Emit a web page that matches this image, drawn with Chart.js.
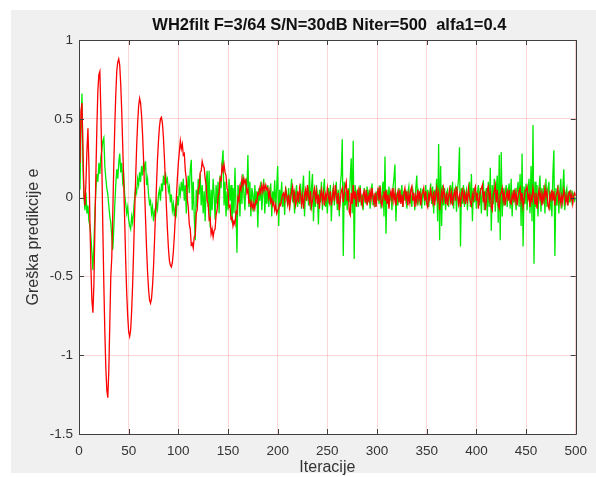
<!DOCTYPE html>
<html><head><meta charset="utf-8">
<script src="https://cdn.jsdelivr.net/npm/chart.js@4.4.1/dist/chart.umd.min.js"></script>
<style>html,body{margin:0;padding:0;background:#fff;overflow:hidden;}</style>
</head><body><canvas id="c" width="596" height="477"></canvas>
<script>
const titleText = "WH2filt F=3/64 S/N=30dB Niter=500  alfa1=0.4";
const xLabel = "Iteracije";
const yLabel = "Greška predikcije e";
const xTicks = [0, 50, 100, 150, 200, 250, 300, 350, 400, 450, 500];
const yTicks = [-1.5, -1, -0.5, 0, 0.5, 1];

// red series (iterations 1..500)
const redSeries = [
 0.22, 0.55, 0.60, 0.30, 0.02, -0.05, 0.10, 0.30, 0.44, 0.20,
 -0.15, -0.45, -0.65, -0.73, -0.55, -0.20, 0.15, 0.45, 0.68, 0.78,
 0.80, 0.55, 0.20, -0.20, -0.55, -0.85, -1.08, -1.22, -1.27, -1.10,
 -0.80, -0.50, -0.38, -0.10, 0.20, 0.45, 0.65, 0.80, 0.86, 0.88,
 0.84, 0.72, 0.55, 0.33, 0.10, -0.15, -0.40, -0.60, -0.75, -0.85,
 -0.88, -0.84, -0.72, -0.55, -0.33, -0.10, 0.12, 0.32, 0.47, 0.58,
 0.63, 0.60, 0.52, 0.40, 0.24, 0.05, -0.14, -0.32, -0.47, -0.58,
 -0.65, -0.67, -0.64, -0.56, -0.44, -0.28, -0.10, 0.08, 0.24, 0.36,
 0.45, 0.50, 0.51, 0.47, 0.38, 0.25, 0.10, -0.06, -0.20, -0.32,
 -0.40, -0.43, -0.44, -0.41, -0.34, -0.24, -0.12, 0.00, 0.12, 0.22,
 0.29, 0.36, 0.31, 0.34, 0.27, 0.28, 0.17, 0.12, -0.01, -0.06,
 -0.17, -0.20, -0.30, -0.29, -0.32, -0.25, -0.24, -0.10, -0.08, 0.05,
 0.07, 0.16, 0.17, 0.23, 0.20, 0.19, 0.12, 0.08, -0.02, -0.04,
 -0.14, -0.13, -0.23, -0.20, -0.25, -0.21, -0.20, -0.11, -0.08, 0.01,
 0.03, 0.12, 0.11, 0.20, 0.17, 0.21, 0.16, 0.14, 0.06, 0.04,
 -0.06, -0.05, -0.14, -0.12, -0.18, -0.15, -0.17, -0.09, -0.10, 0.00,
 -0.02, 0.07, 0.05, 0.12, 0.08, 0.12, 0.09, 0.11, 0.03, 0.05,
 -0.03, -0.02, -0.06, -0.03, -0.07, -0.04, -0.07, -0.02, -0.03, 0.03,
 0.02, 0.06, 0.03, 0.08, 0.04, 0.08, 0.05, 0.08, 0.05, 0.06,
 0.00, 0.04, -0.03, -0.01, -0.05, -0.03, -0.08, -0.05, -0.10, -0.08,
 -0.07, -0.04, -0.05, -0.01, 0.02,
 0.03, -0.02, 0.05, 0.01, -0.04, 0.02, -0.06, -0.01, 0.04, 0.07,
 -0.01, 0.03, -0.05, -0.02, 0.04, -0.03, 0.06, 0.02, -0.04, 0.01,
 -0.07, 0.02, 0.05, -0.02, 0.08, 0.01, -0.03, 0.04, -0.06, -0.02,
 0.03, 0.06, -0.01, 0.04, -0.04, 0.02, -0.07, 0.01, 0.05, -0.02,
 0.03, -0.05, 0.02, -0.01, 0.06, 0.01, -0.03, 0.04, -0.05, 0.00,
 0.05, -0.02, 0.08, 0.02, -0.04, 0.03, -0.08, -0.02, 0.04, 0.06,
 -0.03, 0.02, 0.07, 0.10, -0.02, 0.05, -0.09, -0.11, 0.03, -0.04,
 0.08, -0.01, 0.04, -0.06, 0.02, 0.05, -0.03, 0.06, -0.02, -0.05,
 0.02, 0.04, -0.03, 0.05, -0.05, 0.01, -0.02, 0.04, -0.01, 0.06,
 0.00, -0.04, 0.03, -0.06, 0.02, 0.05, -0.02, 0.07, -0.03, -0.05,
 0.01, 0.04, -0.02, 0.05, -0.04, 0.02, -0.07, 0.01, 0.04, -0.01,
 0.06, -0.02, 0.03, -0.05, 0.01, 0.04, -0.03, 0.05, -0.04, 0.02,
 -0.06, 0.03, 0.06, -0.01, 0.04, -0.05, 0.02, -0.03, 0.05, 0.07,
 -0.02, 0.03, -0.06, 0.01, -0.03, 0.05, -0.01, 0.04, -0.05, 0.02,
 0.03, 0.06, -0.02, 0.04, -0.04, -0.06, 0.02, -0.01, 0.05, 0.01,
 -0.03, 0.04, -0.05, 0.02, 0.06, -0.01, 0.03, -0.08, -0.02, 0.04,
 -0.01, 0.06, 0.02, -0.04, 0.03, -0.05, 0.01, 0.05, -0.02, 0.03,
 -0.05, 0.01, 0.04, -0.02, 0.07, 0.02, -0.04, 0.01, -0.06, 0.03,
 0.05, -0.01, 0.03, -0.04, 0.02, -0.02, 0.06, 0.01, -0.03, -0.05,
 0.02, -0.01, 0.05, 0.07, -0.02, 0.03, -0.07, -0.01, 0.04, 0.06,
 0.08, -0.03, 0.04, -0.08, -0.02, 0.05, 0.07, -0.01, 0.03, -0.06,
 -0.08, 0.02, 0.04, 0.08, -0.03, 0.05, -0.05, -0.07, 0.02, 0.03,
 0.06, -0.02, 0.03, -0.05, 0.01, 0.04, -0.02, 0.05, -0.03, -0.04,
 0.02, -0.01, 0.05, -0.02, 0.03, -0.05, 0.01, 0.04, 0.06, -0.02,
 0.03, -0.06, -0.02, 0.04, 0.05, 0.07, -0.01, 0.02, -0.06, 0.01,
 -0.02, 0.06, 0.02, -0.04, 0.03, -0.07, 0.01, 0.05, -0.01, 0.03,
 -0.05, 0.02, -0.02, 0.06, 0.01, 0.04, -0.05, -0.07, 0.02, -0.01,
 0.05, -0.02, 0.04, -0.05, 0.01, 0.03, 0.06, -0.02, 0.02, -0.04,
 0.01, -0.03, 0.05, 0.02, -0.03, 0.01, -0.05, 0.03, 0.04, -0.01,
 0.02, -0.04, 0.01, 0.03, 0.01
];

// green series (iterations 1..500)
const greenSeries = [
 0.05, 0.45, 0.66, 0.20, 0.00, -0.08, 0.03, -0.10, -0.05, -0.15,
 -0.18, -0.25, -0.35, -0.46, -0.30, -0.10, 0.05, 0.15, 0.10, 0.22,
 0.15, 0.26, 0.30, 0.36, 0.38, 0.20, 0.12, 0.06, 0.02, -0.05,
 -0.12, -0.16, -0.25, -0.33, -0.20, -0.05, 0.08, 0.18, 0.12, 0.22,
 0.28, 0.16, 0.22, 0.10, 0.14, 0.02, -0.04, -0.10, -0.06, -0.14,
 -0.18, -0.20, -0.12, -0.16, -0.08, 0.00, 0.06, 0.03, 0.12, 0.08,
 0.16, 0.10, 0.20, 0.14, 0.22, 0.18, 0.23, 0.08, 0.12, 0.02,
 -0.04, -0.02, -0.10, -0.06, -0.15, -0.09, -0.12, -0.03, -0.07, 0.02,
 0.05, -0.02, 0.09, 0.04, 0.14, 0.08, 0.16, 0.10, 0.12, 0.04,
 0.07, -0.03, 0.02, -0.08, -0.04, -0.12, -0.06, -0.10, 0.01, -0.05,
 0.06, 0.02, 0.10, 0.04, 0.12, -0.02, 0.08, -0.10, 0.05, 0.14,
 0.03, 0.18, 0.24, -0.08, 0.10, -0.12, -0.27, 0.05, -0.06, 0.12,
 0.02, 0.15, -0.05, 0.08, -0.10, 0.04, -0.15, 0.10, 0.17, -0.06,
 0.17, -0.19, 0.05, -0.08, 0.12, 0.02, -0.14, 0.08, -0.04, 0.10,
 -0.10, 0.14, 0.06, 0.22, 0.30, -0.05, 0.10, -0.12, 0.04, -0.08,
 0.12, -0.02, 0.08, -0.16, 0.06, -0.10, 0.19, -0.06, -0.35, 0.08,
 0.04, -0.12, 0.10, -0.04, 0.15, 0.02, -0.08, 0.12, 0.05, 0.27,
 -0.06, 0.10, -0.12, 0.06, 0.02, -0.09, 0.08, -0.05, 0.04, -0.19,
 0.06, -0.02, 0.10, -0.08, 0.03, 0.12, -0.10, 0.05, -0.04, 0.08,
 -0.06, 0.02, 0.09, -0.12, 0.04, -0.03, 0.11, -0.08, 0.06, 0.20,
 -0.18, 0.05, -0.04, 0.10, -0.06, 0.03, -0.11, 0.07, 0.02, -0.05,
 0.06, -0.08, 0.04, 0.12, -0.03, 0.05, -0.10, 0.02, 0.08, -0.06,
 0.03, -0.04, 0.09, -0.07, 0.05, 0.14, -0.12, 0.04, -0.02, 0.07,
 -0.05, 0.17, -0.08, 0.06, 0.15, -0.15, 0.03, -0.06, 0.08, 0.02,
 -0.17, 0.05, -0.03, 0.10, -0.08, 0.04, 0.12, -0.06, 0.02, -0.10,
 0.06, -0.04, 0.08, -0.15, 0.03, 0.07, -0.05, 0.02, 0.10, -0.08,
 0.05, -0.12, 0.08, 0.15, 0.37, -0.37, 0.10, -0.05, 0.04, -0.08,
 0.06, -0.03, 0.12, 0.25, -0.10, 0.36, -0.39, 0.08, -0.04, 0.05,
 -0.06, 0.03, 0.08, -0.05, 0.02, -0.08, 0.06, 0.01, -0.04, 0.07,
 -0.03, 0.05, -0.07, 0.03, 0.09, -0.05, 0.02, -0.06, 0.04, -0.02,
 0.06, -0.04, 0.08, -0.07, 0.03, 0.10, -0.12, 0.26, -0.23, 0.05,
 -0.04, 0.07, -0.02, 0.04, -0.08, 0.06, 0.12, 0.21, -0.15, 0.03,
 -0.05, 0.06, -0.03, 0.02, 0.08, -0.06, 0.04, -0.02, 0.05, -0.07,
 0.03, 0.07, -0.04, 0.02, -0.06, 0.05, 0.01, -0.08, 0.06, 0.14,
 -0.05, 0.03, -0.02, 0.06, -0.07, 0.04, 0.02, -0.05, 0.08, -0.03,
 0.05, -0.06, 0.03, 0.09, -0.04, 0.07, -0.10, 0.05, -0.02, 0.12,
 -0.15, 0.34, -0.27, 0.20, -0.18, 0.08, -0.05, 0.06, -0.08, 0.03,
 0.05, -0.06, 0.02, 0.08, -0.04, 0.10, -0.07, 0.03, 0.06, -0.09,
 0.05, 0.12, 0.32, -0.31, 0.06, -0.04, 0.08, -0.06, 0.02, 0.05,
 -0.08, 0.04, 0.10, -0.06, 0.15, -0.15, 0.06, -0.03, 0.05, -0.07,
 0.03, 0.08, -0.05, 0.06, -0.10, 0.04, 0.11, -0.08, 0.02, 0.06,
 -0.12, 0.10, -0.06, 0.19, -0.21, 0.08, -0.04, 0.12, -0.09, 0.05,
 0.14, -0.16, 0.27, -0.27, 0.29, -0.12, 0.06, -0.05, 0.03, 0.08,
 -0.06, 0.04, 0.09, -0.07, 0.12, -0.12, 0.05, -0.03, 0.06, -0.08,
 0.04, 0.10, -0.06, 0.15, -0.18, 0.28, -0.31, 0.07, -0.04, 0.09,
 -0.08, 0.05, 0.12, -0.10, 0.20, -0.15, 0.46, -0.42, 0.10, -0.06,
 0.08, -0.12, 0.05, 0.14, -0.09, 0.06, -0.04, 0.08, -0.10, 0.12,
 -0.06, 0.05, 0.10, -0.08, 0.04, -0.12, 0.15, 0.30, -0.37, 0.06,
 -0.05, 0.08, -0.10, 0.04, 0.12, -0.07, 0.06, 0.18, -0.08, 0.03,
 0.06, -0.05, 0.04, -0.03, 0.05, -0.02, 0.03, 0.01, -0.02, 0.00
];

const toPoints = arr => arr.map((v, i) => ({x: i + 1, y: v}));

const AREA = {left: 79, right: 576, top: 40, bottom: 434};
const W = 596, H = 477;
const FONT = 'Liberation Sans, Arial, sans-serif';

const bgPlugin = {
  id: 'bg',
  beforeDraw(chart) {
    const ctx = chart.ctx;
    const ca = chart.chartArea;
    ctx.save();
    ctx.fillStyle = '#ffffff';
    ctx.fillRect(0, 0, W, H);
    ctx.fillStyle = '#f0f0f0';
    ctx.fillRect(11, 10, W - 11, 463);
    ctx.fillStyle = '#ffffff';
    ctx.fillRect(ca.left, ca.top, ca.right - ca.left, ca.bottom - ca.top);
    ctx.restore();
  }
};

const framePlugin = {
  id: 'frame',
  afterDatasetsDraw(chart) {
    const ctx = chart.ctx;
    const ca = chart.chartArea;
    const xs = chart.scales.x, ys = chart.scales.y;
    ctx.save();
    ctx.strokeStyle = '#404040';
    ctx.lineWidth = 1;
    ctx.beginPath();
    ctx.rect(Math.round(ca.left) + 0.5, Math.round(ca.top) + 0.5,
             Math.round(ca.right - ca.left), Math.round(ca.bottom - ca.top));
    ctx.stroke();
    const tl = 5;
    ctx.beginPath();
    xTicks.forEach(v => {
      const px = Math.round(xs.getPixelForValue(v)) + 0.5;
      ctx.moveTo(px, ca.bottom); ctx.lineTo(px, ca.bottom - tl);
      ctx.moveTo(px, ca.top); ctx.lineTo(px, ca.top + tl);
    });
    yTicks.forEach(v => {
      const py = Math.round(ys.getPixelForValue(v)) + 0.5;
      ctx.moveTo(ca.left, py); ctx.lineTo(ca.left + tl, py);
      ctx.moveTo(ca.right, py); ctx.lineTo(ca.right - tl, py);
    });
    ctx.stroke();
    // title centred over the plot area
    ctx.fillStyle = '#111';
    ctx.font = 'bold 16.5px ' + FONT;
    ctx.textAlign = 'center';
    ctx.textBaseline = 'middle';
    ctx.fillText(titleText, (ca.left + ca.right) / 2 + 2, 25);
    ctx.restore();
  }
};

new Chart(document.getElementById('c'), {
  type: 'line',
  data: {
    datasets: [
      {label: 'red', data: toPoints(redSeries), borderColor: 'rgb(255,0,0)', borderWidth: 1.3,
       pointRadius: 0, tension: 0, fill: false},
      {label: 'green', data: toPoints(greenSeries), borderColor: 'rgb(0,235,0)', borderWidth: 1.3,
       pointRadius: 0, tension: 0, fill: false}
    ]
  },
  options: {
    responsive: false,
    animation: false,
    events: [],
    layout: {padding: {left: 0, right: W - AREA.right, top: AREA.top, bottom: 0}},
    plugins: {
      legend: {display: false},
      tooltip: {enabled: false},
      title: {display: false}
    },
    scales: {
      x: {
        type: 'linear', min: 0, max: 500,
        afterBuildTicks: s => { s.ticks = xTicks.map(v => ({value: v})); },
        afterFit: s => { s.height = H - AREA.bottom; },
        grid: {color: 'rgba(255,0,0,0.16)', lineWidth: 1, drawTicks: false},
        border: {display: false},
        ticks: {color: '#333', padding: 9, maxRotation: 0, callback: v => String(v),
                font: {family: FONT, size: 13.5}},
        title: {display: true, text: xLabel, color: '#333', padding: {top: 0, bottom: 0},
                font: {family: FONT, size: 16}}
      },
      y: {
        type: 'linear', min: -1.5, max: 1,
        afterBuildTicks: s => { s.ticks = yTicks.map(v => ({value: v})); },
        afterFit: s => { s.width = AREA.left; },
        grid: {color: 'rgba(255,0,0,0.16)', lineWidth: 1, drawTicks: false},
        border: {display: false},
        ticks: {color: '#333', padding: 6, callback: v => String(v),
                font: {family: FONT, size: 13.5}},
        title: {display: true, text: yLabel, color: '#333', padding: {top: 24, bottom: 0},
                font: {family: FONT, size: 16}}
      }
    }
  },
  plugins: [bgPlugin, framePlugin]
});
</script>
</body></html>
